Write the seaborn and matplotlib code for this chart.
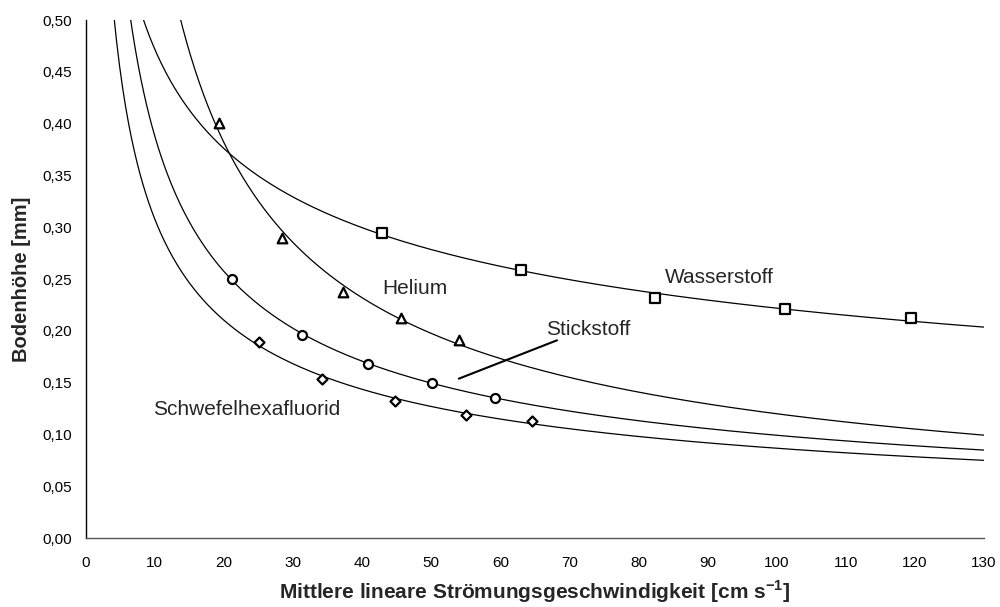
import numpy as np
import pandas as pd
import matplotlib
matplotlib.use("Agg")
import matplotlib.pyplot as plt
from matplotlib.ticker import FuncFormatter, MultipleLocator
import seaborn as sns

# Measured plate heights per carrier gas
wasserstoff_u = [42.9, 63.0, 82.4, 101.2, 119.5]
wasserstoff_h = [0.295, 0.2585, 0.2315, 0.2212, 0.2122]

helium_u = [19.3, 28.4, 37.2, 45.6, 54.0]
helium_h = [0.401, 0.290, 0.238, 0.2125, 0.191]

stickstoff_u = [21.2, 31.3, 40.9, 50.1, 59.3]
stickstoff_h = [0.250, 0.196, 0.1686, 0.1496, 0.1358]

sf6_u = [25.1, 34.2, 44.8, 55.0, 64.6]
sf6_h = [0.1898, 0.1535, 0.1329, 0.1194, 0.1133]

gases = ["Wasserstoff", "Helium", "Stickstoff", "Schwefelhexafluorid"]
markers = {"Wasserstoff": "s", "Helium": "^", "Stickstoff": "o",
           "Schwefelhexafluorid": "D"}
marker_sizes = {"Wasserstoff": 42, "Helium": 48, "Stickstoff": 42,
                "Schwefelhexafluorid": 26}
curve_start = {"Wasserstoff": 6, "Helium": 10, "Stickstoff": 4,
               "Schwefelhexafluorid": 3}

data = pd.DataFrame({
    "u": wasserstoff_u + helium_u + stickstoff_u + sf6_u,
    "H": wasserstoff_h + helium_h + stickstoff_h + sf6_h,
    "Gas": sum([[g] * 5 for g in gases], []),
})

sns.set_theme(style="white")
plt.rcParams["font.family"] = ["Liberation Sans", "DejaVu Sans"]
plt.rcParams["mathtext.fontset"] = "custom"
plt.rcParams["mathtext.rm"] = "Liberation Sans"
plt.rcParams["mathtext.bf"] = "Liberation Sans:bold"

fig = plt.figure(figsize=(10, 6.07), dpi=100)
ax = fig.add_axes([0.0857, 0.1132, 0.8983, 0.8538])

# Power-law trend line for each gas (least squares in log-log space)
for gas in gases:
    sub = data[data["Gas"] == gas]
    b, log_a = np.polyfit(np.log(sub["u"]), np.log(sub["H"]), 1)
    uu = np.linspace(curve_start[gas], 130, 600)
    fit = pd.DataFrame({"u": uu, "H": np.exp(log_a) * uu ** b})
    sns.lineplot(data=fit, x="u", y="H", ax=ax, color="black", lw=0.9,
                 zorder=2)

for gas in gases:
    sub = data[data["Gas"] == gas]
    sns.scatterplot(data=sub, x="u", y="H", ax=ax, marker=markers[gas],
                    s=marker_sizes[gas], facecolor="white",
                    edgecolor="black", linewidth=1.6, zorder=3)

ax.set_xlim(0, 130)
ax.set_ylim(0, 0.5)
ax.xaxis.set_major_locator(MultipleLocator(10))
ax.yaxis.set_major_locator(MultipleLocator(0.05))
ax.yaxis.set_major_formatter(FuncFormatter(lambda v, p: f"{v:.2f}".replace(".", ",")))
ax.xaxis.set_major_formatter(FuncFormatter(lambda v, p: f"{v:.0f}"))

for side in ["top", "right"]:
    ax.spines[side].set_visible(False)
ax.spines["left"].set_color("black")
ax.spines["bottom"].set_color("#555555")
ax.spines["left"].set_linewidth(1.0)
ax.spines["bottom"].set_linewidth(1.0)
ax.tick_params(axis="both", direction="out", length=5, width=1.0,
               color="black", labelsize=11, labelcolor="black")
ax.tick_params(axis="x", pad=8)
ax.tick_params(axis="y", pad=5)

ax.set_xlabel(r"Mittlere lineare Strömungsgeschwindigkeit [cm s$^{\mathbf{-1}}$]",
              fontsize=15, fontweight="bold", labelpad=6)
ax.set_ylabel("Bodenhöhe [mm]", fontsize=14.5, fontweight="bold", labelpad=8)

ax.text(83.8, 0.252, "Wasserstoff", fontsize=15, va="center", ha="left")
ax.text(42.9, 0.241, "Helium", fontsize=15, va="center", ha="left")
ax.text(66.6, 0.2016, "Stickstoff", fontsize=15, va="center", ha="left")
ax.text(9.7, 0.1246, "Schwefelhexafluorid", fontsize=15, va="center", ha="left")
ax.plot([54.0, 68.2], [0.154, 0.191], color="black", lw=1.5)

fig.savefig("out.png", dpi=100, facecolor="white")
